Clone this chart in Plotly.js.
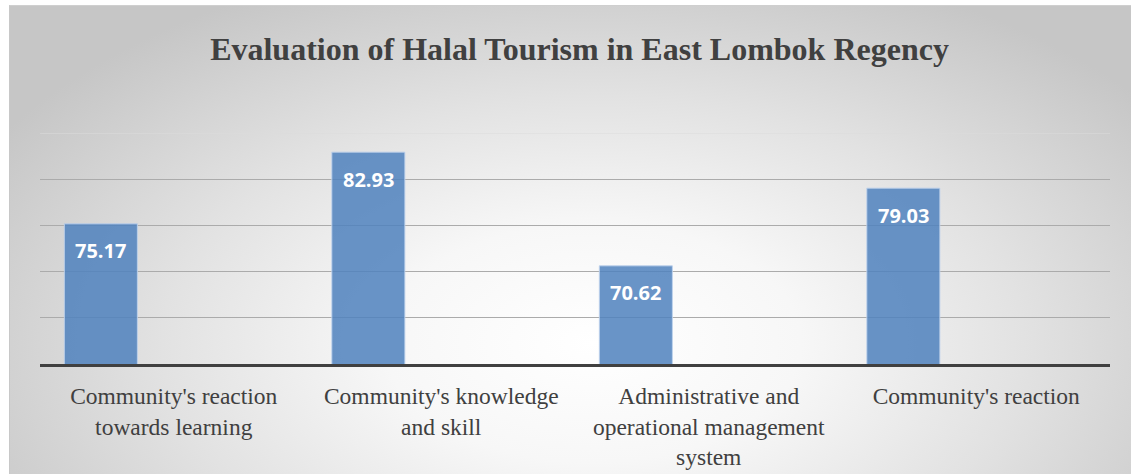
<!DOCTYPE html>
<html>
<head>
<meta charset="utf-8">
<script src="https://cdn.plot.ly/plotly-3.0.1.min.js"></script>
<style>
  html, body { margin: 0; padding: 0; background: #ffffff; }
  #bg {
    position: absolute; left: 9px; top: 5px; width: 1122px; height: 469px;
    box-sizing: border-box; border-top: 1px solid #cfcfcf; border-left: 1px solid #c8c8c8;
    background: radial-gradient(ellipse 62% 85% at 52% 72%, #ffffff 0%, #f7f7f7 30%, #e2e2e2 62%, #c6c6c6 100%);
  }
  #chart { position: absolute; left: 0; top: 0; width: 1131px; height: 474px; }
</style>
</head>
<body>
<div id="bg"></div>
<div id="chart"></div>
<script>
var categories = [
  "Community's reaction<br>towards learning",
  "Community's knowledge<br>and skill",
  "Administrative and<br>operational management<br>system",
  "Community's reaction"
];
var values = [75.17, 82.93, 70.62, 79.03];
var valueLabels = ["75.17", "82.93", "70.62", "79.03"];
var yRange = [60, 85];
var gridVals = [65, 70, 75, 80];

// bars sit in the first slot of a three-slot cluster (as in the source chart)
var barWidth = 0.273;
var barOffset = -0.409;

var trace = {
  type: 'bar',
  x: categories,
  y: values,
  width: barWidth,
  offset: barOffset,
  marker: {
    color: 'rgba(79,129,189,0.85)',
    line: { color: 'rgba(190,210,236,0.9)', width: 1 }
  },
  hoverinfo: 'none'
};

var annotations = categories.map(function (c, i) {
  return {
    x: c, y: values[i], xref: 'x', yref: 'y',
    xshift: (barOffset + barWidth / 2) * 267.5,
    text: '<b>' + valueLabels[i] + '</b>',
    showarrow: false, yanchor: 'middle', yshift: -27,
    font: { family: 'Open Sans', size: 20, color: '#ffffff' }
  };
});

var layout = {
  width: 1131, height: 474,
  paper_bgcolor: 'rgba(0,0,0,0)',
  plot_bgcolor: 'rgba(0,0,0,0)',
  margin: { l: 40, r: 21, t: 133, b: 110 },
  showlegend: false,
  title: {
    text: '<b>Evaluation of Halal Tourism in East Lombok Regency</b>',
    font: { family: 'Liberation Serif', size: 32, color: '#404040' },
    x: 0.5124, xref: 'container', xanchor: 'center',
    y: 0.897, yref: 'container', yanchor: 'middle'
  },
  xaxis: {
    showline: true, linecolor: '#404040', linewidth: 3,
    ticks: '', showgrid: false,
    tickfont: { family: 'Liberation Serif', size: 23.5, color: '#404040' },
    ticklabelstandoff: 9,
    fixedrange: true
  },
  yaxis: {
    range: yRange,
    tickvals: gridVals,
    showticklabels: false,
    ticks: '',
    showgrid: true, gridcolor: '#ababab', gridwidth: 1,
    zeroline: false, showline: false,
    fixedrange: true
  },
  shapes: [{
    type: 'line', xref: 'paper', yref: 'y', x0: 0, x1: 1, y0: yRange[1], y1: yRange[1],
    line: { color: '#dcdcdc', width: 1 }, layer: 'below'
  }],
  annotations: annotations
};

Plotly.newPlot('chart', [trace], layout, { displayModeBar: false, staticPlot: true });
</script>
</body>
</html>
